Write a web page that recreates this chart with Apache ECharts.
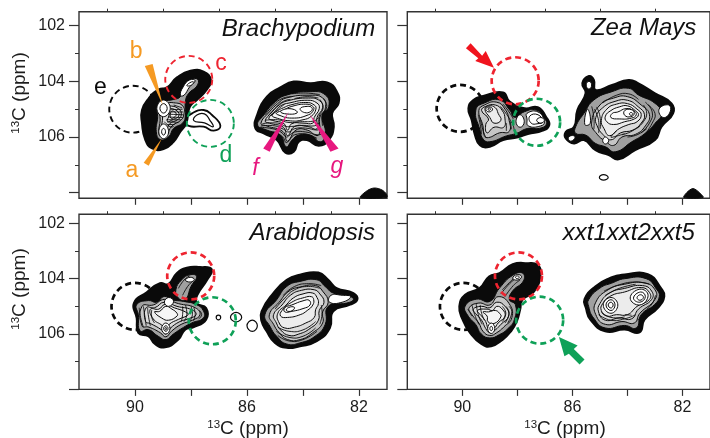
<!DOCTYPE html>
<html><head><meta charset="utf-8">
<style>html,body{margin:0;padding:0;background:#fff;overflow:hidden}#c{width:710px;height:438px}</style>
<script src="https://cdn.jsdelivr.net/npm/echarts@6/dist/echarts.min.js"></script>
</head><body><div id="c"></div>
<script>
// ---------- tick values (ppm) ----------
const xMajor=[90,88,86,84,82], xMinor=[91,89,87,85,83], xLabels=[90,86,82];
const yMajor=[102,104,106,108], yMinor=[103,105,107], yLabels=[102,104,106];

// ---------- Brachypodium ----------
const brachyLobe=[[87.96,105.15],[87.55,105.03],[87.25,105.21],[86.95,105.6],[87.19,105.77],[87.55,105.63],[88.08,105.6],[88.2,105.4]];
const brachyLobeInner=[[87.79,105.21],[87.52,105.17],[87.33,105.39],[87.21,105.63],[87.52,105.49],[87.9,105.41]];
const brachyLeftOuter=[[88.02,103.62],[87.55,103.65],[87.29,103.95],[87.43,104.29],[87.79,104.67],[88.0,104.85],[88.08,105.03],[88.17,105.51],[88.38,105.81],[88.62,106.17],[88.98,106.43],[89.39,106.41],[89.63,106.11],[89.75,105.51],[89.75,105.03],[89.51,104.61],[89.15,104.29],[88.86,104.22],[88.5,103.86]];
const brachyLeftInner=[[88.38,104.55],[88.26,104.22],[88.02,103.95],[87.76,103.93],[87.79,104.17],[88.08,104.43],[88.2,104.73],[88.2,105.21],[88.29,105.49],[88.62,105.69],[88.8,105.99],[89.1,106.09],[89.24,105.81],[89.19,105.27],[89.21,104.91],[88.98,104.73],[88.62,104.65]];
const brachyLeftLines=[
 [[89.12,104.97],[88.92,104.81],[88.62,104.77],[88.29,104.89],[88.26,105.21],[88.38,105.41],[88.68,105.6],[88.88,105.93],[89.07,105.99],[89.15,105.81],[89.1,105.39]],
 [[89.0,104.92],[88.8,104.88],[88.45,104.98],[88.35,105.21],[88.5,105.39],[88.75,105.51],[88.93,105.85],[89.08,105.81],[89.02,105.4]],
 [[88.78,105.0],[88.5,105.06],[88.44,105.25],[88.62,105.36],[88.84,105.44],[88.78,105.2]],
 [[88.7,105.08],[88.54,105.14],[88.56,105.26],[88.72,105.32]],
 [[89.22,104.97],[88.98,104.67],[88.74,104.97],[88.98,105.27]],
 [[89.11,104.97],[88.98,104.8],[88.85,104.97],[88.98,105.14]],
 [[89.15,105.81],[88.98,105.53],[88.8,105.81],[88.98,106.06]],
 [[89.05,105.81],[88.98,105.69],[88.91,105.81],[88.98,105.93]],
 [[88.38,104.5],[88.28,104.2],[88.05,103.95],[87.85,103.98],[88.05,104.2],[88.25,104.5]],
 [[88.15,104.15],[87.98,104.02],[87.9,104.04],[88.02,104.15]]];
const brachyLeftStripes=[[[88.62,104.85],[88.32,104.95]],[[88.72,105.02],[88.3,105.0]],[[88.78,105.1],[88.28,105.1]],[[88.8,105.18],[88.28,105.2]],[[88.82,105.28],[88.3,105.3]],[[88.88,105.38],[88.36,105.38]],[[88.85,105.46],[88.45,105.47]],[[88.85,105.55],[88.58,105.55]],[[88.95,105.45],[88.75,105.63],[88.62,105.62]]];
const brachyRightOuter=[[84.33,104.01],[83.74,104.07],[83.14,104.04],[82.79,104.37],[82.73,104.79],[82.96,105.15],[82.9,105.63],[83.08,106.11],[83.44,106.31],[83.86,106.11],[84.15,106.17],[84.33,106.53],[84.63,106.56],[84.93,106.11],[85.4,105.87],[85.7,105.69],[85.64,105.21],[85.29,104.55],[84.81,104.22]];
const brachyRightInner=[[84.57,104.49],[83.74,104.37],[83.2,104.49],[83.08,104.91],[83.32,105.21],[83.2,105.87],[83.38,106.17],[83.74,105.93],[84.15,105.93],[84.39,106.11],[84.6,106.35],[84.81,105.93],[85.29,105.75],[85.62,105.57],[85.4,105.21],[84.99,104.73]];
const brachyRightLines=[
 [[84.6,104.6],[83.75,104.5],[83.3,104.6],[83.2,104.95],[83.4,105.3],[83.4,105.8],[83.5,105.95],[83.85,105.75],[84.25,105.75],[84.55,106.15],[84.72,105.8],[85.3,105.6],[85.5,105.5],[85.2,105.1],[84.9,104.8]],
 [[84.55,104.7],[83.8,104.6],[83.4,104.7],[83.3,104.95],[83.5,105.3],[83.5,105.7],[83.85,105.62],[84.3,105.62],[84.55,105.95],[84.7,105.65],[85.2,105.5],[85.35,105.42],[85.1,105.1],[84.85,104.85]],
 [[84.5,104.78],[83.85,104.68],[83.5,104.78],[83.42,104.98],[83.6,105.3],[83.65,105.5],[84.0,105.5],[84.4,105.52],[84.55,105.75],[84.68,105.52],[85.1,105.4],[85.22,105.32],[85.0,105.08],[84.8,104.88]],
 [[84.45,104.85],[83.9,104.76],[83.6,104.85],[83.54,105.0],[83.7,105.25],[84.0,105.38],[84.45,105.42],[85.0,105.3],[85.1,105.22],[84.9,105.05],[84.7,104.95]],
 [[84.4,104.9],[83.9,104.82],[83.65,104.9],[83.62,105.02],[83.8,105.2],[84.4,105.32],[84.9,105.2],[84.95,105.14],[84.7,105.03]],
 [[84.1,104.98],[83.85,104.9],[83.68,104.95],[83.72,105.08],[83.95,105.12]],
 [[84.8,105.1],[84.5,104.98],[84.2,105.1],[84.4,105.18]]];
const brachyRightStripes=[
 [[85.35,105.4],[84.9,105.38],[84.5,105.48],[84.1,105.45],[83.6,105.42],[83.45,105.3]],
 [[85.45,105.52],[84.9,105.5],[84.6,105.62],[84.4,105.62],[84.0,105.58],[83.6,105.6],[83.42,105.5]],
 [[85.5,105.6],[85.0,105.6],[84.7,105.72],[84.5,105.82],[84.3,105.7],[83.9,105.68],[83.5,105.75],[83.4,105.7]],
 [[85.55,105.65],[85.0,105.72],[84.75,105.85],[84.6,106.0],[84.5,105.95],[84.3,105.82],[83.9,105.82],[83.5,105.92],[83.35,105.9]],
 [[85.0,105.82],[84.72,106.0],[84.6,106.2],[84.45,106.05],[84.3,105.92],[83.9,105.9],[83.5,106.05]],
 [[85.35,105.2],[85.05,104.85],[84.75,104.62],[84.4,104.55]],
 [[85.25,105.25],[84.95,104.92],[84.7,104.72],[84.45,104.65]],
 [[85.15,105.25],[84.88,105.0],[84.65,104.82]],
 [[84.4,104.45],[83.9,104.42],[83.4,104.48]],
 [[84.3,104.62],[83.85,104.55],[83.45,104.6]],
 [[83.28,104.6],[83.15,104.9],[83.3,105.2],[83.3,105.6]],
 [[83.4,104.65],[83.28,104.95],[83.42,105.25],[83.42,105.6]]];
const brachyCorner=[[81.95,108.17],[81.7,107.92],[81.45,107.83],[81.18,107.9],[81.02,108.05],[81.01,108.17]];
// wedges
const wedgeA=[[89.04,106.05],[89.69,106.92],[89.51,107.03]];
const wedgeB=[[89.01,104.85],[89.65,103.45],[89.37,103.38]];
const wedgeF=[[84.51,105.09],[85.42,106.41],[85.19,106.53]];
const wedgeG=[[83.76,105.19],[83.02,106.53],[82.73,106.41]];

// ---------- Zea Mays ----------
const zeaLeftOuter=[[89.78,104.97],[89.6,104.67],[89.24,104.53],[88.52,104.4],[88.28,104.73],[87.74,104.97],[87.26,104.93],[86.96,105.27],[86.84,105.57],[87.08,105.77],[87.62,105.89],[87.98,106.01],[88.52,106.11],[89.0,106.35],[89.36,106.29],[89.54,105.93],[89.66,105.39]];
const zeaLeftInner=[[89.51,105.03],[89.18,104.77],[88.64,104.67],[88.28,105.03],[88.1,105.29],[87.74,105.09],[87.32,105.03],[87.06,105.29],[86.94,105.53],[87.2,105.69],[87.62,105.69],[88.04,105.87],[88.4,105.96],[89.0,106.17],[89.24,106.08],[89.36,105.75]];
const zeaLeftLines=[
 [[89.4,105.05],[89.2,104.85],[88.75,104.75],[88.45,105.0],[88.3,105.4],[88.3,105.8],[88.65,105.85],[89.05,106.02],[89.2,105.95],[89.25,105.6]],
 [[89.3,105.05],[89.15,104.9],[88.8,104.85],[88.55,105.05],[88.45,105.35],[88.5,105.65],[88.85,105.65],[89.1,105.85],[89.15,105.55],[89.05,105.35]],
 [[89.18,105.0],[89.03,104.88],[88.8,104.95],[88.7,105.15],[88.6,105.4],[88.85,105.5],[89.0,105.3]],
 [[89.15,105.0],[89.03,104.92],[88.9,105.0],[89.03,105.1]],
 [[89.07,105],[89.03,104.96],[88.97,105],[89.03,105.04]],
 [[87.65,105.15],[87.25,105.1],[87.02,105.45],[87.15,105.6],[87.6,105.6],[87.65,105.35]],
 [[87.55,105.25],[87.25,105.2],[87.08,105.45],[87.25,105.52],[87.5,105.5]],
 [[87.3,105.4],[87.15,105.3],[87.02,105.4],[87.15,105.5]],
 [[88.05,105.45],[87.9,105.2],[87.75,105.45],[87.9,105.65]]];
const zeaLeftStripes=[[[89.35,105.3],[89.28,105.65],[89.15,106.02]],[[89.42,105.2],[89.35,105.55],[89.3,105.9]],[[88.62,104.9],[88.38,105.2],[88.2,105.5]],[[88.52,104.82],[88.3,105.1],[88.15,105.35]],[[88.25,105.45],[88.22,105.72]],[[88.4,105.5],[88.4,105.78]],[[88.15,105.58],[88.1,105.8]]];
const zeaRightOuter=[[85.64,104.07],[85.4,103.81],[85.22,103.95],[85.16,104.31],[84.56,104.13],[83.96,103.95],[83.6,104.07],[83.0,104.43],[82.4,104.79],[82.34,105.15],[82.76,105.63],[83.0,106.11],[83.72,106.47],[84.32,106.8],[84.68,106.65],[85.16,106.47],[85.58,106.11],[85.94,106.23],[86.24,106.05],[86.24,105.81],[85.94,105.63],[85.82,105.03],[85.52,104.43]];
const zeaRightInner=[[85.22,104.67],[84.56,104.37],[83.96,104.25],[83.6,104.49],[83.0,104.79],[82.76,105.15],[83.0,105.51],[83.36,105.87],[83.84,106.17],[84.44,106.53],[84.8,106.35],[85.16,106.23],[85.52,105.93],[85.88,105.87],[85.88,105.63],[85.58,105.15]];
const zeaRightLines=[
 [[85.0,104.85],[84.5,104.6],[84.0,104.55],[83.5,104.85],[83.2,105.2],[83.35,105.6],[83.7,105.9],[84.2,106.0],[84.5,106.3],[84.8,106.15],[85.1,105.9],[85.3,105.5]],
 [[84.9,104.95],[84.45,104.72],[84.0,104.68],[83.6,104.92],[83.38,105.2],[83.5,105.5],[83.8,105.75],[84.25,105.85],[84.6,106.1],[84.9,105.9],[85.1,105.6],[85.15,105.3]],
 [[84.75,105.0],[84.4,104.82],[84.0,104.8],[83.65,105.0],[83.5,105.2],[83.65,105.45],[83.95,105.55],[84.3,105.7],[84.65,105.95],[84.85,105.7],[84.95,105.4]],
 [[84.6,105.05],[84.3,104.92],[84.0,104.88],[83.72,105.05],[83.6,105.2],[83.75,105.35],[84.1,105.45],[84.5,105.55],[84.75,105.45],[84.8,105.25]],
 [[84.35,105.1],[84.05,104.98],[83.78,105.05],[83.68,105.2],[83.85,105.32],[84.3,105.35],[84.6,105.3],[84.55,105.15]],
 [[84.1,105.05],[83.85,105.02],[83.75,105.15],[83.88,105.27],[84.1,105.22]],
 [[83.93,105.17],[83.87,105.12],[83.8,105.17],[83.87,105.22]],
 [[84.9,106.13],[84.8,106.0],[84.68,106.13],[84.8,106.25]],
 [[85.5,104.13],[85.4,104.0],[85.3,104.13],[85.4,104.28]],
 [[86.15,106.05],[86.05,105.95],[85.9,106.0],[86.05,106.15]],
 [[85.45,105.0],[85.35,105.5],[85.55,105.55]],
 [[82.5,104.85],[82.45,105.1],[82.7,105.3],[82.85,105.0]]];
const zeaRightStripes=[
 [[83.35,104.75],[83.1,105.1],[83.2,105.5],[83.5,105.85]],
 [[83.25,104.85],[83.0,105.15],[83.1,105.5],[83.4,105.95]],
 [[83.42,104.85],[83.3,105.15],[83.42,105.45],[83.65,105.68]],
 [[85.2,105.0],[85.05,105.4],[85.05,105.85]],
 [[85.12,104.92],[85.0,105.25],[84.98,105.7]],
 [[85.3,104.9],[85.22,105.3],[85.22,105.72]],
 [[84.9,104.78],[84.4,104.5],[83.95,104.45],[83.6,104.65]],
 [[84.2,105.92],[83.9,105.82],[83.55,105.6]],
 [[84.0,106.0],[83.65,105.92],[83.3,105.7]],
 [[84.4,105.78],[84.6,106.0],[84.45,105.98],[84.1,105.88]]];
const zeaSpeck=[[85.02,107.45],[84.87,107.35],[84.7,107.45],[84.87,107.55]];
const zeaCorner=[[81.95,108.17],[81.85,108.0],[81.62,107.85],[81.38,108.0],[81.25,108.17]];
const redArrow=[[89.7,102.63],[89.28,103.08],[89.15,102.91],[88.85,103.51],[89.53,103.27],[89.42,103.17],[89.87,102.81]];

// ---------- Arabidopsis ----------
const araLeftOuter=[[90.04,104.88],[89.58,104.49],[89.11,104.16],[88.81,104.2],[88.51,103.8],[88.15,103.6],[87.68,103.58],[87.26,103.66],[87.42,104.04],[87.77,104.58],[87.8,104.88],[87.46,105.06],[87.46,105.48],[87.92,105.76],[88.21,105.84],[88.45,106.2],[88.93,106.48],[89.29,106.36],[89.52,106.08],[89.88,105.96],[89.94,105.42]];
const araLeftInner=[[89.94,104.94],[89.52,104.79],[89.23,104.85],[88.96,104.64],[88.69,104.76],[88.27,104.82],[87.8,104.94],[87.56,105.16],[87.56,105.42],[87.98,105.6],[88.27,105.76],[88.63,106.0],[88.89,106.2],[89.17,106.08],[89.52,105.84],[89.82,105.88],[89.88,105.3]];
const araTopInner=[[88.54,104.4],[88.33,104.04],[88.04,103.86],[87.8,103.92],[88,104.28],[88.21,104.76],[88.45,104.7]];
const araLeftLines=[
 [[89.75,105.0],[89.35,104.95],[88.95,104.75],[88.45,104.9],[87.85,105.05],[87.68,105.3],[87.95,105.5],[88.35,105.65],[88.7,105.9],[88.9,106.1],[89.1,105.95],[89.5,105.75],[89.75,105.7]],
 [[89.6,105.05],[89.3,105.05],[88.95,104.85],[88.5,105.0],[87.98,105.12],[87.82,105.3],[88.1,105.45],[88.4,105.55],[88.75,105.8],[88.9,106.0],[89.05,105.85],[89.45,105.62],[89.62,105.55]],
 [[89.45,105.1],[89.15,105.1],[88.93,104.93],[88.6,105.05],[88.2,105.2],[88.1,105.3],[88.45,105.47],[88.78,105.65],[88.9,105.85],[89.02,105.7],[89.35,105.45]],
 [[89.3,105.2],[89.12,105.18],[88.9,105.0],[88.68,105.1],[88.5,105.25],[88.5,105.35],[88.8,105.5],[89.05,105.42]],
 [[88.95,104.85],[88.8,104.68],[88.62,104.82],[88.8,105.0]],
 [[89.05,105.8],[88.9,105.6],[88.75,105.8],[88.9,106.0]],
 [[88.98,105.8],[88.9,105.7],[88.82,105.8],[88.9,105.9]],
 [[88.93,105.8],[88.9,105.76],[88.87,105.8],[88.9,105.85]],
 [[88.2,104.05],[88.03,103.95],[87.88,104.03],[88.03,104.12]]];
const araLeftStripes=[
 [[89.85,105.05],[89.8,105.4],[89.7,105.75]],[[89.7,105.0],[89.65,105.35],[89.6,105.7]],[[89.55,105.05],[89.52,105.35],[89.45,105.7]],[[89.4,105.12],[89.4,105.4],[89.3,105.6]],
 [[88.2,104.95],[88.15,105.3],[88.25,105.55]],[[88.0,105.0],[87.95,105.3],[88.05,105.55]],[[87.9,105.05],[87.85,105.3],[87.92,105.52]],[[87.7,105.15],[87.62,105.3],[87.72,105.45]],[[88.3,105.0],[88.3,105.3],[88.35,105.55]],
 [[88.45,104.35],[88.25,104.05],[88.05,103.9]],[[88.3,104.6],[88.12,104.28],[87.95,104.1]]];
const araSpecks=[
 [[87.1,105.4],[87.02,105.32],[86.94,105.4],[87.02,105.49]],
 [[86.59,105.39],[86.39,105.22],[86.19,105.39],[86.39,105.56]],
 [[86.0,105.7],[85.81,105.5],[85.63,105.7],[85.81,105.9]]];
const araRightOuter=[[85.48,105.18],[85.06,104.52],[84.58,104.04],[84.11,103.86],[83.45,103.78],[83.1,104.04],[82.8,104.34],[82.2,104.52],[82.06,104.76],[82.32,104.94],[82.92,105.18],[83.04,105.78],[83.51,106.26],[84.11,106.44],[84.58,106.5],[85,106.32],[85.3,105.9],[85.48,105.54]];
const araRightInner=[[85.36,105.3],[84.94,104.76],[84.58,104.28],[84.11,104.1],[83.51,104.04],[83.21,104.28],[82.92,104.52],[82.32,104.64],[82.2,104.76],[82.44,104.88],[83.1,105],[83.21,105.66],[83.57,106.08],[84.11,106.32],[84.58,106.36],[84.94,106.08],[85.18,105.72]];
const araRightLines=[
 [[85.2,105.3],[84.85,104.85],[84.5,104.45],[84.1,104.3],[83.55,104.25],[83.3,104.45],[83.1,104.85],[83.3,105.2],[83.3,105.6],[83.65,105.95],[84.1,106.2],[84.55,106.2],[84.85,105.95],[85.05,105.65]],
 [[85.05,105.3],[84.75,104.95],[84.45,104.6],[84.05,104.42],[83.6,104.4],[83.4,104.55],[83.25,104.85],[83.42,105.15],[83.45,105.5],[83.75,105.8],[84.15,106.0],[84.5,106.05],[84.8,105.85],[84.95,105.6]],
 [[84.9,105.25],[84.6,104.95],[84.35,104.7],[84.0,104.55],[83.65,104.52],[83.5,104.68],[83.45,104.9],[83.55,105.12],[83.6,105.4],[83.9,105.6],[84.3,105.75],[84.65,105.78],[84.85,105.6]],
 [[84.75,105.15],[84.4,104.85],[83.95,104.68],[83.7,104.65],[83.62,104.75],[83.65,104.95],[83.85,105.15],[84.1,105.3],[84.55,105.4],[84.8,105.35]],
 [[84.65,105.05],[84.4,104.95],[84.0,104.8],[83.78,104.78],[83.75,104.95],[84.0,105.08],[84.4,105.18],[84.65,105.2]],
 [[84.6,105.13],[84.45,105.02],[84.3,105.05],[84.45,105.18]],
 [[82.3,104.65],[82.6,104.6],[83.0,104.6],[83.05,104.85],[82.6,104.85]]];
const araRightStripes=[
 [[84.9,105.75],[84.5,105.9],[84.0,105.85],[83.55,105.55]],
 [[84.95,105.9],[84.5,106.12],[84.0,106.08],[83.55,105.78]],
 [[84.9,106.05],[84.5,106.25],[84.0,106.2],[83.5,105.9]],
 [[85.0,105.1],[84.65,104.7],[84.3,104.4],[83.8,104.28],[83.4,104.35]],
 [[84.7,104.6],[84.3,104.28],[83.8,104.18],[83.35,104.25]],
 [[83.35,104.95],[83.32,105.3],[83.4,105.65]],
 [[82.35,104.72],[82.7,104.72],[83.05,104.72]],
 [[82.5,104.8],[83.05,104.8]]];

// ---------- xxt1xxt2xxt5 ----------
const xxtLeftOuter=[[90.11,105],[89.9,104.58],[89.37,104.34],[89.03,103.92],[88.65,103.8],[88.17,103.48],[87.63,103.44],[87.27,103.5],[87.15,103.8],[87.39,104.46],[87.81,104.76],[87.9,105.12],[88.02,105.54],[88.23,105.9],[88.53,106.2],[88.95,106.44],[89.31,106.36],[89.72,105.96],[89.99,105.48]];
const xxtLeftInner=[[89.9,105],[89.49,104.74],[89,104.82],[88.65,104.34],[88.17,103.88],[87.81,103.8],[87.78,104.08],[88.17,104.44],[88.29,104.76],[88.07,104.94],[88.11,105.48],[88.35,105.81],[88.65,106.02],[89,106.14],[89.31,106],[89.51,105.66],[89.78,105.36]];
const xxtLeftLines=[
 [[89.75,105.05],[89.4,104.88],[89.0,104.95],[88.7,104.65],[88.3,104.9],[88.2,105.4],[88.5,105.75],[88.75,105.95],[89,106.05],[89.25,105.9],[89.4,105.6],[89.65,105.3]],
 [[89.6,105.1],[89.3,105.0],[89.0,105.05],[88.75,104.85],[88.45,105.0],[88.32,105.35],[88.6,105.65],[88.8,105.85],[89,105.95],[89.15,105.8],[89.3,105.5],[89.5,105.28]],
 [[89.45,105.15],[89.1,105.1],[88.9,105.15],[88.75,105.0],[88.55,105.1],[88.45,105.35],[88.7,105.6],[88.85,105.8],[89.03,105.85],[89.15,105.55],[89.3,105.35]],
 [[89.25,105.2],[89.05,105.2],[88.8,105.15],[88.65,105.25],[88.6,105.38],[88.85,105.62],[89.07,105.55],[89.1,105.35]],
 [[89.08,105.8],[88.95,105.6],[88.82,105.8],[88.95,105.98]],
 [[89.0,105.8],[88.95,105.72],[88.9,105.8],[88.95,105.88]],
 [[88.17,103.98],[88.0,103.85],[87.85,103.93],[88.0,104.05]],
 [[88.07,103.95],[88.0,103.9],[87.93,103.94],[88.0,104.0]]];
const xxtLeftStripes=[
 [[89.8,105.1],[89.65,105.35]],[[89.65,104.95],[89.55,105.3],[89.4,105.65]],[[89.5,104.9],[89.42,105.3],[89.28,105.65]],[[89.35,104.95],[89.3,105.25],[89.2,105.5]],
 [[88.3,105.0],[88.2,105.2],[88.35,105.6]],[[88.55,105.0],[88.42,105.25],[88.55,105.55]],[[88.42,105.0],[88.3,105.25],[88.45,105.6]],
 [[88.6,104.55],[88.2,104.1],[87.95,103.95]],[[88.45,104.65],[88.15,104.25],[87.9,104.05]],[[88.55,104.4],[88.3,104.15],[88.05,103.9]]];
const xxtRightOuter=[[85.56,104.74],[85.17,104.28],[84.69,104.0],[84.1,103.85],[83.26,103.84],[82.78,104.34],[82.66,104.64],[82.9,105.06],[83.38,105.48],[83.56,105.94],[84.1,105.84],[84.81,105.9],[85.35,105.48],[85.51,105.06]];
const xxtRightInner=[[85.41,104.76],[85,104.34],[84.57,104.16],[84.1,104],[83.32,104],[82.93,104.4],[82.84,104.64],[83.02,104.94],[83.5,105.3],[83.68,105.78],[84.1,105.69],[84.81,105.78],[85.23,105.42],[85.41,105]];
const xxtRightLines=[
 [[85.15,104.85],[84.7,104.4],[84.1,104.2],[83.4,104.15],[83.0,104.4],[83.0,104.75],[83.55,105.25],[83.75,105.6],[84.2,105.55],[84.8,105.65],[85.15,105.3]],
 [[85.0,104.9],[84.65,104.52],[84.1,104.35],[83.45,104.25],[83.12,104.45],[83.12,104.75],[83.6,105.1],[83.85,105.45],[84.3,105.42],[84.8,105.5],[85.05,105.2]],
 [[84.9,104.9],[84.6,104.62],[84.1,104.48],[83.5,104.32],[83.2,104.5],[83.2,104.75],[83.65,105],[84,105.3],[84.4,105.3],[84.75,105.35],[84.95,105.15]],
 [[84.88,104.95],[84.6,104.68],[84.35,104.95],[84.6,105.25]],
 [[84.78,104.95],[84.6,104.76],[84.45,104.95],[84.6,105.15]],
 [[84.7,104.95],[84.6,104.85],[84.52,104.95],[84.6,105.06]],
 [[83.9,104.7],[83.55,104.38],[83.25,104.6],[83.55,104.95]],
 [[83.78,104.7],[83.52,104.48],[83.35,104.65],[83.55,104.85]],
 [[83.65,104.68],[83.52,104.58],[83.42,104.68],[83.55,104.78]]];
const xxtRightStripes=[
 [[85.05,105.3],[84.6,105.5],[84.1,105.45],[83.7,105.3]],
 [[84.95,105.2],[84.6,105.4],[84.1,105.38]],
 [[84.85,104.45],[84.3,104.22],[83.7,104.12],[83.2,104.2]],
 [[84.8,104.6],[84.3,104.35],[83.7,104.2]],
 [[83.3,105.1],[83.1,104.9],[82.98,104.6]],
 [[83.45,105.35],[83.62,105.5]],[[83.85,105.32],[84.1,105.3]]];
const greenArrow=[[86.49,106.11],[85.81,106.41],[85.95,106.54],[85.56,106.92],[85.74,107.1],[86.13,106.71],[86.29,106.8]];

// ---------- dashed circle centres [ppm x, ppm y] ----------
const blackCentres=[[90.08,105.0],[90.08,104.97],[90.0,105.0],[89.96,105.0]];
const redCentres=[[88.08,103.93],[88.08,103.98],[88.01,103.9],[87.96,103.9]];
const greenCentres=[[87.31,105.51],[87.3,105.47],[87.24,105.52],[87.19,105.5]];

// ---------- text ----------
const panelTitles=["Brachypodium","Zea Mays","Arabidopsis","xxt1xxt2xxt5"];
const titleSpots=[[81.42,102.13],[81.5,102.1],[81.43,102.36],[81.55,102.36]];
const letterNames=["a","b","c","d","e","f","g"];
const letterSpots=[[90.11,107.19],[89.96,102.93],[86.93,103.38],[86.75,106.68],[91.24,104.22],[85.7,107.13],[82.79,107.07]];
const ORANGE="#F59A23",PINK="#E7187F",RED="#EE2430",GREEN="#0FA158",BLACK="#0a0a0a";
const bandShades=["#c6c6c6","#dcdcdc","#ececec","#f6f6f6","#fbfbfb","#ffffff"];

// nest = how many leading contours are stacked as progressively lighter bands
function blobShapes(outer,inners,lines,nest,stripes){
  const s=[{p:outer,fill:BLACK,stroke:BLACK,lw:2,smooth:.5}];
  inners.forEach(p=>s.push({p,fill:"#a0a0a0",stroke:BLACK,lw:1,smooth:.5}));
  lines.slice(0,nest).forEach((p,k)=>s.push({p,fill:bandShades[k],stroke:BLACK,lw:1,smooth:.5}));
  (stripes||[]).forEach(p=>s.push({p,open:true,stroke:BLACK,lw:.9,smooth:.5}));
  lines.slice(nest).forEach(p=>s.push({p,fill:"#fff",stroke:BLACK,lw:1,smooth:.5}));
  return s;
}
const flat=(p,c)=>({p,fill:c,stroke:c,lw:0,smooth:0});
const ring=p=>({p,fill:"none",stroke:BLACK,lw:1.2,smooth:.5});
const panelShapes=[
 [...blobShapes(brachyLobe,[],[],0).map(s=>({...s,fill:"#fff",lw:1.8})),...blobShapes(brachyLeftOuter,[brachyLeftInner],brachyLeftLines,4,brachyLeftStripes),ring(brachyLobeInner),
  ...blobShapes(brachyRightOuter,[brachyRightInner],brachyRightLines,5,brachyRightStripes),{p:brachyCorner,fill:BLACK,stroke:BLACK,lw:1,smooth:.3},
  flat(wedgeA,ORANGE),flat(wedgeB,ORANGE),flat(wedgeF,PINK),flat(wedgeG,PINK)],
 [...blobShapes(zeaLeftOuter,[zeaLeftInner],zeaLeftLines,3,zeaLeftStripes),...blobShapes(zeaRightOuter,[zeaRightInner],zeaRightLines,6,zeaRightStripes),ring(zeaSpeck),{p:zeaCorner,fill:BLACK,stroke:BLACK,lw:1,smooth:.3},flat(redArrow,"#F0141E")],
 [...blobShapes(araLeftOuter,[araLeftInner,araTopInner],araLeftLines,4,araLeftStripes),...araSpecks.map(ring),...blobShapes(araRightOuter,[araRightInner],araRightLines,5,araRightStripes)],
 [...blobShapes(xxtLeftOuter,[xxtLeftInner],xxtLeftLines,4,xxtLeftStripes),...blobShapes(xxtRightOuter,[xxtRightInner],xxtRightLines,3,xxtRightStripes),flat(greenArrow,GREEN)]
];
const rects=[
 {left:79,top:11.7,width:308,height:186.6,ymin:101.5,ymax:108.2},
 {left:407.3,top:11.7,width:308.6,height:186.6,ymin:101.5,ymax:108.2},
 {left:79,top:214.2,width:308,height:175.2,ymin:101.67,ymax:108},
 {left:407.3,top:214.2,width:308.6,height:175.2,ymin:101.67,ymax:108}
];
const circleWidths=[1.9,2.7,2.7,2.7];
const grids=[],xAxes=[],yAxes=[],series=[];
rects.forEach((r,i)=>{
  const xShow=i>=2, yShow=(i%2)===0;
  grids.push({left:r.left,top:r.top,width:r.width,height:r.height,show:true,borderColor:"#333",borderWidth:1.4,backgroundColor:"transparent",containLabel:false});
  const tl={color:"#1c1c1c",fontFamily:"Liberation Sans",fontSize:16};
  const common={type:"value",gridIndex:i,splitLine:{show:false},axisLine:{show:false}};
  xAxes.push({...common,inverse:true,min:81,max:92,
    axisTick:{show:true,length:6.5,customValues:xMajor,lineStyle:{color:"#333",width:1.2}},
    axisLabel:{show:xShow,customValues:xLabels,margin:10,...tl}});
  xAxes.push({...common,inverse:true,min:81,max:92,
    axisTick:{show:true,length:3,customValues:xMinor,lineStyle:{color:"#333",width:1}},axisLabel:{show:false}});
  yAxes.push({...common,inverse:true,position:"left",min:r.ymin,max:r.ymax,
    axisTick:{show:true,length:10,customValues:yMajor,lineStyle:{color:"#333",width:1.2}},
    axisLabel:{show:yShow,customValues:yLabels,margin:14,...tl}});
  yAxes.push({...common,inverse:true,position:"left",min:r.ymin,max:r.ymax,
    axisTick:{show:true,length:4,customValues:yMinor,lineStyle:{color:"#333",width:1}},axisLabel:{show:false}});
  const xi=i*2, yi=i*2;
  const circle=(data,color,z)=>({type:"scatter",xAxisIndex:xi,yAxisIndex:yi,z,data,symbol:"circle",symbolSize:47,silent:true,
    itemStyle:{color:"transparent",borderColor:color,borderWidth:circleWidths[i],borderType:[6,4],opacity:1}});
  series.push(circle([blackCentres[i]],BLACK,1));
  const shapes=panelShapes[i];
  series.push({type:"custom",xAxisIndex:xi,yAxisIndex:yi,z:2,silent:true,
    data:shapes.map(s=>s.p[0]),
    renderItem(params,api){
      const s=shapes[params.dataIndex];
      const pts=s.p.map(q=>api.coord(q));
      if(s.open) return {type:"polyline",shape:{points:pts,smooth:s.smooth},style:{fill:null,stroke:s.stroke,lineWidth:s.lw}};
      return {type:"polygon",shape:{points:pts,smooth:s.smooth},
        style:{fill:s.fill,stroke:s.lw?s.stroke:null,lineWidth:s.lw}};
    }});
  series.push(circle([redCentres[i]],RED,3));
  series.push(circle([greenCentres[i]],GREEN,3));
  series.push({type:"scatter",xAxisIndex:xi,yAxisIndex:yi,z:4,symbolSize:0,silent:true,itemStyle:{opacity:1},
    data:[titleSpots[i]],
    label:{show:true,position:"inside",align:"right",verticalAlign:"middle",formatter:()=>panelTitles[i],
      fontFamily:"Liberation Sans",fontStyle:"italic",fontSize:24,color:"#111"}});
});
const letterColors=[ORANGE,ORANGE,RED,GREEN,BLACK,PINK,PINK];
letterNames.forEach((n,k)=>{
  series.push({type:"scatter",xAxisIndex:0,yAxisIndex:0,z:4,symbolSize:0,silent:true,itemStyle:{opacity:1},data:[letterSpots[k]],
    label:{show:true,position:"inside",align:"center",verticalAlign:"middle",formatter:()=>n,
      fontFamily:"Liberation Sans",fontStyle:k>=5?"italic":"normal",fontSize:23,color:letterColors[k]}});
});
const axisRich={sup:{fontFamily:"Liberation Sans",fontSize:11.5,verticalAlign:"top",lineHeight:20,padding:[0,0,8,0],fill:"#1c1c1c",color:"#1c1c1c"},
  n:{fontFamily:"Liberation Sans",fontSize:19,fill:"#1c1c1c",color:"#1c1c1c"}};
const axisNameText=["{sup|13}{n|C (ppm)}"];
const nameText=(x,y,rot)=>({type:"text",x,y,rotation:rot,z:10,silent:true,
  style:{text:axisNameText[0],rich:axisRich,align:"center",verticalAlign:"middle"}});
const chart=echarts.init(document.getElementById("c"),null,{renderer:"canvas"});
chart.setOption({animation:false,grid:grids,xAxis:xAxes,yAxis:yAxes,series,
  graphic:[nameText(20,93,Math.PI/2),nameText(20,289,Math.PI/2),nameText(248,429,0),nameText(565,429,0)]});
</script></body></html>
